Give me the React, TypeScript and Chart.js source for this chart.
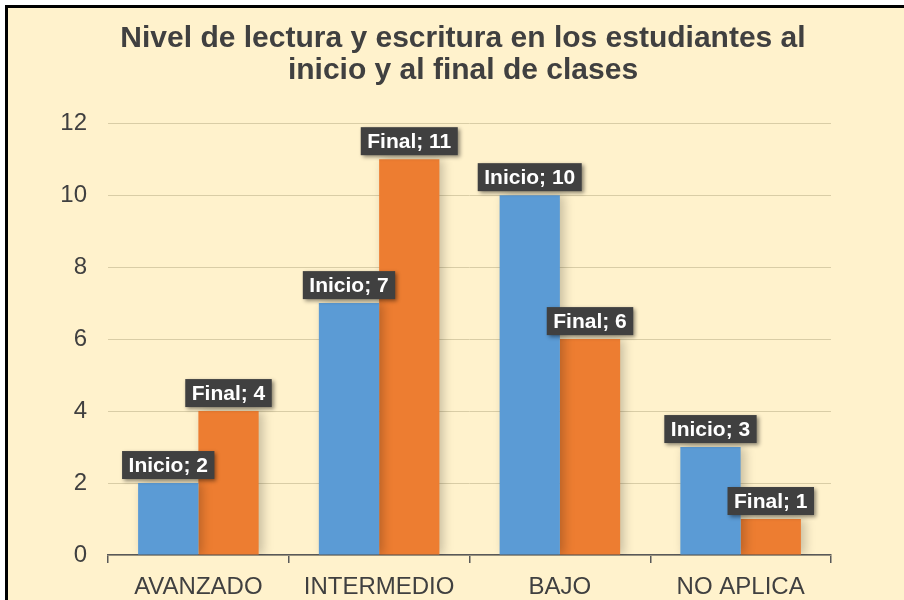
import React, { useEffect, useRef } from "react";
import { Chart, registerables } from "chart.js";

Chart.register(...registerables);

const titleLines = ["Nivel de lectura y escritura en los estudiantes al", "inicio y al final de clases"];
const categories = ["AVANZADO", "INTERMEDIO", "BAJO", "NO APLICA"];
const inicioValues = [2, 7, 10, 3];
const finalValues = [4, 11, 6, 1];
const seriesNames = ["Inicio", "Final"];

const FONT = "'Liberation Sans', Arial, sans-serif";

const labelPlugin = {
  id: "boxLabels",
  beforeDatasetsDraw(chart: any) {
    const ctx = chart.ctx;
    ctx.save();
    ctx.shadowColor = "rgba(0,0,0,0.22)";
    ctx.shadowBlur = 10;
    ctx.shadowOffsetX = 4;
    ctx.shadowOffsetY = 0;
  },
  afterDatasetsDraw(chart: any) {
    const ctx = chart.ctx;
    ctx.restore();
    ctx.save();
    ctx.font = `bold 21px ${FONT}`;
    ctx.textAlign = "center";
    ctx.textBaseline = "middle";
    chart.data.datasets.forEach((ds: any, di: number) => {
      const meta = chart.getDatasetMeta(di);
      meta.data.forEach((bar: any, i: number) => {
        const text = `${ds.label}; ${ds.data[i]}`;
        const w = ctx.measureText(text).width + 13;
        const h = 28;
        const x = bar.x - w / 2;
        const y = bar.y - 4 - h;
        ctx.save();
        ctx.shadowColor = "rgba(0,0,0,0.45)";
        ctx.shadowBlur = 4;
        ctx.shadowOffsetX = 2;
        ctx.shadowOffsetY = 2;
        ctx.fillStyle = "#404040";
        ctx.fillRect(x, y, w, h);
        ctx.restore();
        ctx.fillStyle = "#ffffff";
        ctx.fillText(text, bar.x, y + h / 2 + 1);
      });
    });
    ctx.restore();
  },
};

export default function App() {
  const ref = useRef<HTMLCanvasElement | null>(null);
  useEffect(() => {
    if (!ref.current) return;
    const chart = new Chart(ref.current, {
      type: "bar",
      data: {
        labels: categories,
        datasets: [
          {
            label: seriesNames[0],
            data: inicioValues,
            backgroundColor: "#5B9BD5",
            categoryPercentage: 0.667,
            barPercentage: 1.0,
            yAxisID: "y",
          },
          {
            label: seriesNames[1],
            data: finalValues,
            backgroundColor: "#ED7D31",
            categoryPercentage: 0.667,
            barPercentage: 1.0,
            yAxisID: "y",
          },
        ],
      },
      options: {
        responsive: false,
        animation: false,
        layout: { padding: { left: 22, right: 0, top: 0, bottom: 0 } },
        plugins: {
          legend: { display: false },
          tooltip: { enabled: false },
          title: {
            display: true,
            text: titleLines,
            color: "#404040",
            font: { family: FONT, size: 30, weight: "bold", lineHeight: 1.07 },
            padding: { top: 23, bottom: 36 },
          },
        },
        scales: {
          x: {
            grid: {
              display: true,
              drawOnChartArea: false,
              drawTicks: true,
              tickLength: 8,
              color: "#595959",
              lineWidth: 1.5,
            },
            border: { display: true, color: "#595959", width: 1.5 },
            ticks: { color: "#404040", font: { family: FONT, size: 24 }, padding: 10 },
            afterFit(scale: any) {
              scale.height = 45;
            },
          },
          y: {
            position: "left",
            min: 0,
            max: 12,
            ticks: { stepSize: 2, color: "#404040", font: { family: FONT, size: 24 }, padding: 21 },
            grid: { color: "#D9CDA6", lineWidth: 1, drawTicks: false },
            border: { display: false },
            afterFit(scale: any) {
              scale.width = 86;
            },
          },
          yRight: {
            position: "right",
            display: true,
            min: 0,
            max: 12,
            ticks: { display: false },
            grid: { display: false, drawTicks: false },
            border: { display: false },
            afterFit(scale: any) {
              scale.width = 73;
            },
          },
        },
      },
      plugins: [labelPlugin],
    } as any);
    return () => chart.destroy();
  }, []);
  return (
    <div style={{ position: "fixed", left: 0, top: 0, width: 904, height: 600, overflow: "hidden", background: "#ffffff" }}>
      <div
        style={{
          position: "absolute",
          left: 5,
          top: 5,
          width: 1000,
          height: 1000,
          background: "#FFF2CC",
          borderLeft: "3px solid #000",
          borderTop: "3px solid #000",
        }}
      />
      <canvas ref={ref} width={904} height={600} style={{ position: "absolute", left: 0, top: 0 }} />
    </div>
  );
}
